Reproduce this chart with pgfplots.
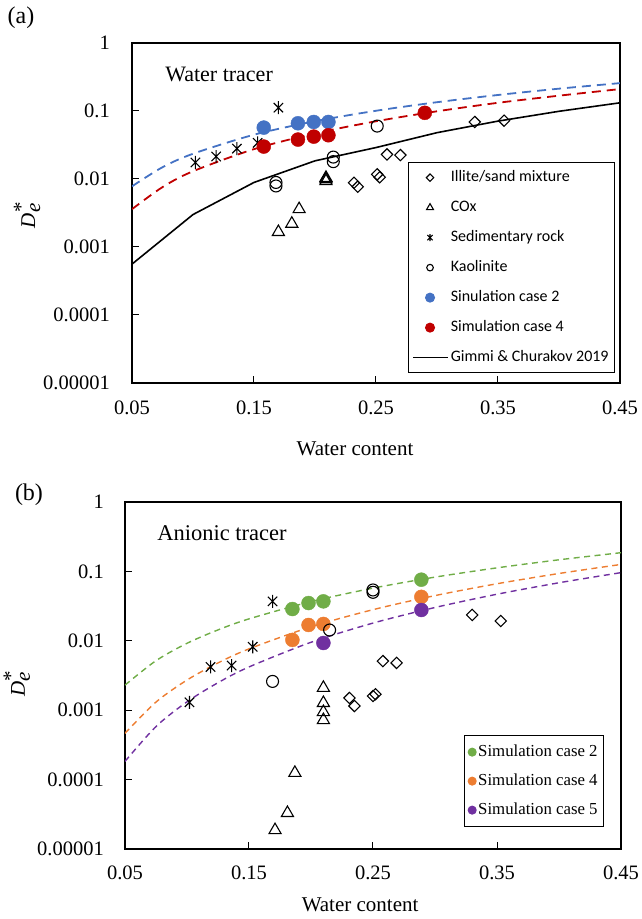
\documentclass[border=0pt]{standalone}
\usepackage{pgfplots}
\pgfplotsset{compat=1.18}
\usepackage{fontspec}
\setmainfont{Liberation Serif}
\newfontfamily\carlito{Carlito}
\definecolor{cblue}{RGB}{68,114,196}
\definecolor{cred}{RGB}{192,0,0}
\definecolor{cgreen}{RGB}{112,173,71}
\definecolor{corange}{RGB}{237,125,49}
\definecolor{cpurple}{RGB}{112,48,160}
\newcommand{\tickf}{\fontsize{20.5}{24}\selectfont}
\newcommand{\tl}[1]{\mbox{\tickf #1}}
\newcommand{\labf}{\fontsize{21}{25}\selectfont}
\newcommand{\titf}{\fontsize{22}{26}\selectfont}
\newcommand{\panf}{\fontsize{24}{28}\selectfont}
\pgfdeclareplotmark{xstar}{%
  \pgfpathmoveto{\pgfqpoint{0pt}{\pgfplotmarksize}}%
  \pgfpathlineto{\pgfqpoint{0pt}{-\pgfplotmarksize}}%
  \pgfpathmoveto{\pgfqpoint{-.72\pgfplotmarksize}{.72\pgfplotmarksize}}%
  \pgfpathlineto{\pgfqpoint{.72\pgfplotmarksize}{-.72\pgfplotmarksize}}%
  \pgfpathmoveto{\pgfqpoint{-.72\pgfplotmarksize}{-.72\pgfplotmarksize}}%
  \pgfpathlineto{\pgfqpoint{.72\pgfplotmarksize}{.72\pgfplotmarksize}}%
  \pgfusepathqstroke}
\pgfplotsset{
  legmark/.style={legend image code/.code={\draw[##1, mark size=#1] plot coordinates {(17pt,0pt)};}},
}
\begin{document}
\begin{tikzpicture}
\useasboundingbox (0,0) rectangle (641pt,919pt);
% ---------------- top panel ----------------
\begin{axis}[
  /pgf/number format/assume math mode=true,
  scale only axis, ymode=log,
  xmin=0.05, xmax=0.45, ymin=1e-5, ymax=1,
  xtick={0.05,0.15,0.25,0.35,0.45},
  xticklabels={\tl{0.05},\tl{0.15},\tl{0.25},\tl{0.35},\tl{0.45}},
  ytick={1e-5,1e-4,1e-3,1e-2,1e-1,1},
  yticklabels={\tl{0.00001},\tl{0.0001},\tl{0.001},\tl{0.01},\tl{0.1},\tl{1}},
  yminorticks=false, xminorticks=false,
  tick align=inside, xtick pos=bottom, ytick pos=left,
  major tick length=7pt,
  tick style={black, line width=1pt},
  axis line style={line width=1.2pt},
  tick label style={font=\tickf},
  label style={font=\labf},
  yticklabel style={inner sep=0pt, anchor=east, xshift=-22pt},
  xticklabel style={inner sep=0pt, anchor=north, yshift=-18pt},
  ylabel={\textit{D}$_{\textit{e}}^{\textrm{*}}$},
  xlabel={Water content},
  at={(132pt,536pt)}, anchor=south west, width=488pt, height=340pt,
  xlabel style={at={(axis description cs:0.457,-0.194)}, anchor=center},
  ylabel style={at={(axis description cs:-0.215,0.494)}, anchor=center},
  legend style={at={(0.99,0.029)}, anchor=south east, draw=black, line width=1pt,
    font=\carlito\fontsize{16}{19}\selectfont, inner xsep=4pt, inner ysep=8pt, row sep=16pt,
    nodes={text height=11pt, text depth=3pt, inner ysep=0pt, inner xsep=2pt}},
  legend cell align=left,
  legend image code/.code={\draw[#1] (0pt,0pt) -- (35pt,0pt);},
]
\addplot[forget plot, cblue, line width=1.8pt, dash pattern=on 9pt off 6pt, smooth] coordinates {
(0.05,0.0078)(0.075,0.0149)(0.1,0.0235)(0.15,0.0448)(0.2,0.0707)(0.25,0.1008)(0.3,0.1347)(0.35,0.172)(0.4,0.213)(0.45,0.257)};
\addplot[forget plot, cred, line width=1.8pt, dash pattern=on 9pt off 6pt, smooth] coordinates {
(0.05,0.0036)(0.075,0.0076)(0.1,0.0130)(0.15,0.0275)(0.2,0.0468)(0.25,0.0706)(0.3,0.099)(0.35,0.132)(0.4,0.168)(0.45,0.210)};
\addplot[black, only marks, mark=square, mark size=4pt, mark options={solid, rotate=45, line width=1.1pt}, legmark=2.6pt] coordinates {
(0.232,0.0088)(0.235,0.0077)(0.251,0.0117)(0.253,0.0106)(0.259,0.023)(0.270,0.0225)(0.331,0.069)(0.355,0.072)};
\addlegendentry{Illite/sand mixture}
\addplot[black, only marks, mark=triangle, mark size=7pt, mark options={solid, line width=1.1pt}, legmark=4pt] coordinates {
(0.170,0.00166)(0.181,0.0022)(0.187,0.0036)(0.209,0.0093)(0.209,0.0099)(0.209,0.0104)};
\addlegendentry{COx}
\addplot[black, only marks, mark=xstar, mark size=6.5pt, mark options={solid, line width=1.1pt}, legmark=3.6pt] coordinates {
(0.102,0.0175)(0.119,0.0214)(0.136,0.028)(0.153,0.034)(0.170,0.112)};
\addlegendentry{Sedimentary rock}
\addplot[black, only marks, mark=o, mark size=6pt, mark options={solid, line width=1.1pt}, legmark=3.3pt] coordinates {
(0.168,0.0089)(0.168,0.0079)(0.215,0.021)(0.215,0.018)(0.251,0.060)};
\addlegendentry{Kaolinite}
\addplot[only marks, mark=*, mark size=7pt, color=cblue, legmark=4.5pt] coordinates {
(0.158,0.057)(0.186,0.066)(0.199,0.069)(0.211,0.069)};
\addlegendentry{Sinulation case 2}
\addplot[only marks, mark=*, mark size=7pt, color=cred, legmark=4.5pt] coordinates {
(0.158,0.030)(0.186,0.038)(0.199,0.042)(0.211,0.044)(0.290,0.094)};
\addlegendentry{Simulation case 4}
\addplot[black, line width=1.6pt, no marks] coordinates {
(0.05,0.00056)(0.1,0.0030)(0.15,0.0089)(0.2,0.0185)(0.25,0.029)(0.3,0.048)(0.35,0.071)(0.4,0.099)(0.45,0.132)};
\addlegendentry{Gimmi \& Churakov 2019}
\node[anchor=west, font=\titf] at (axis description cs:0.061,0.906) {Water tracer};
\end{axis}
% ---------------- bottom panel ----------------
\begin{axis}[
  /pgf/number format/assume math mode=true,
  scale only axis, ymode=log,
  xmin=0.05, xmax=0.45, ymin=1e-5, ymax=1,
  xtick={0.05,0.15,0.25,0.35,0.45},
  xticklabels={\tl{0.05},\tl{0.15},\tl{0.25},\tl{0.35},\tl{0.45}},
  ytick={1e-5,1e-4,1e-3,1e-2,1e-1,1},
  yticklabels={\tl{0.00001},\tl{0.0001},\tl{0.001},\tl{0.01},\tl{0.1},\tl{1}},
  yminorticks=false, xminorticks=false,
  tick align=inside, xtick pos=bottom, ytick pos=left,
  major tick length=7pt,
  tick style={black, line width=1pt},
  axis line style={line width=1.2pt},
  tick label style={font=\tickf},
  label style={font=\labf},
  yticklabel style={inner sep=0pt, anchor=east, xshift=-21pt},
  xticklabel style={inner sep=0pt, anchor=north, yshift=-17pt},
  ylabel={\textit{D}$_{\textit{e}}^{\textrm{*}}$},
  xlabel={Water content},
  at={(125pt,70pt)}, anchor=south west, width=496pt, height=347pt,
  xlabel style={at={(axis description cs:0.474,-0.161)}, anchor=center},
  ylabel style={at={(axis description cs:-0.218,0.478)}, anchor=center},
  legend style={at={(0.966,0.063)}, anchor=south east, draw=black, line width=1pt,
    font=\fontsize{16.8}{20}\selectfont, inner xsep=4pt, inner ysep=9pt, row sep=14pt,
    nodes={text height=12pt, text depth=3pt, inner ysep=0pt, inner xsep=2pt}},
  legend cell align=left,
  legend image code/.code={\draw[#1, mark size=4pt] plot coordinates {(4pt,0pt)};},
]
\addplot[forget plot, cgreen, line width=1.4pt, dash pattern=on 6pt off 4.5pt, smooth] coordinates {
(0.05,0.0023)(0.075,0.00517)(0.1,0.0092)(0.125,0.01435)(0.15,0.0207)(0.2,0.0367)(0.25,0.0574)(0.3,0.0827)(0.35,0.1125)(0.4,0.147)(0.45,0.186)};
\addplot[forget plot, corange, line width=1.4pt, dash pattern=on 6pt off 4.5pt, smooth] coordinates {
(0.05,0.000465)(0.075,0.00131)(0.1,0.00272)(0.125,0.0048)(0.15,0.00765)(0.2,0.0159)(0.25,0.0281)(0.3,0.0448)(0.35,0.0664)(0.4,0.0933)(0.45,0.126)};
\addplot[forget plot, cpurple, line width=1.4pt, dash pattern=on 6pt off 4.5pt, smooth] coordinates {
(0.05,0.000183)(0.075,0.000582)(0.1,0.00132)(0.125,0.00249)(0.15,0.0042)(0.2,0.00952)(0.25,0.018)(0.3,0.0302)(0.35,0.0469)(0.4,0.0686)(0.45,0.096)};
\addplot[only marks, mark=*, mark size=7pt, color=cgreen] coordinates {
(0.185,0.0287)(0.198,0.035)(0.210,0.037)(0.289,0.076)};
\addlegendentry{Simulation case 2}
\addplot[only marks, mark=*, mark size=7pt, color=corange] coordinates {
(0.185,0.0103)(0.198,0.0169)(0.210,0.0175)(0.289,0.043)};
\addlegendentry{Simulation case 4}
\addplot[only marks, mark=*, mark size=7pt, color=cpurple] coordinates {
(0.210,0.0093)(0.289,0.0278)};
\addlegendentry{Simulation case 5}
\addplot[black, forget plot, only marks, mark=xstar, mark size=6.5pt, mark options={solid, line width=1.1pt}] coordinates {
(0.102,0.0013)(0.119,0.0042)(0.136,0.0044)(0.153,0.0082)(0.169,0.037)};
\addplot[black, forget plot, only marks, mark=o, mark size=6pt, mark options={solid, line width=1.1pt}] coordinates {
(0.169,0.0026)(0.215,0.0143)(0.250,0.050)(0.250,0.054)};
\addplot[black, forget plot, only marks, mark=square, mark size=4pt, mark options={solid, rotate=45, line width=1.1pt}] coordinates {
(0.231,0.0015)(0.235,0.00115)(0.250,0.0016)(0.252,0.0017)(0.258,0.0051)(0.269,0.0048)(0.330,0.0236)(0.353,0.0193)};
\addplot[black, forget plot, only marks, mark=triangle, mark size=7pt, mark options={solid, line width=1.1pt}] coordinates {
(0.210,0.0021)(0.210,0.00127)(0.210,0.00094)(0.210,0.00072)(0.187,0.000125)(0.181,0.000033)(0.171,0.0000187)};
\node[anchor=west, font=\fontsize{22.5}{26}\selectfont] at (axis description cs:0.058,0.911) {Anionic tracer};
\end{axis}
\node[font=\panf] at (21pt,901pt) {(a)};
\node[font=\panf] at (29pt,424pt) {(b)};
\end{tikzpicture}
\end{document}
